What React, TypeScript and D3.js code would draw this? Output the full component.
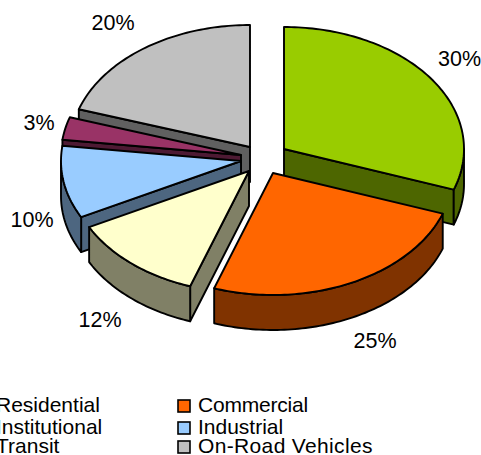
import React from "react";
import * as d3 from "d3";

const categories = ["Residential", "Commercial", "Institutional", "Industrial", "Transit", "On-Road Vehicles"];
const values = [30.4, 24.9, 12.1, 9.6, 3, 20];
const topColors = ["#99CC00", "#FF6600", "#FFFFCC", "#99CCFF", "#993366", "#C0C0C0"];
const sideColors = ["#4D6600", "#803300", "#808066", "#4D6680", "#4D1A33", "#606060"];
const labels = ["30%", "25%", "12%", "10%", "3%", "20%"];

const apexX = [284, 273, 249, 241, 241, 250];
const apexY = [149, 173, 171, 161, 155, 147];
const labelX = [459.5, 375, 100, 32, 39, 113];
const labelY = [66, 348, 327, 227, 130, 29.5];
const paintOrder = [5, 4, 3, 0, 2, 1];
const legendX = [-4, 198];
const legendY = [412, 434, 453];
const swatchX = [-24, 178];
const legendSpacing = [0, -0.2, 0, 0, 0, 0.35];

const RX = 180, RY = 122, DEPTH = 35;
const font = "'Liberation Sans', Arial, sans-serif";

type P = [number, number];
const pie = d3.pie<number>().sort(null).startAngle(0).endAngle(2 * Math.PI);
const arcs = pie(values);
const line = d3.line<P>();

function arcPoints(cx: number, cy: number, a0: number, a1: number, dy = 0): P[] {
  const n = Math.max(2, Math.ceil((a1 - a0) / 0.02));
  const t = d3.scaleLinear().domain([0, n]).range([a0, a1]);
  return d3.range(n + 1).map((i) => [
    cx + RX * Math.sin(t(i)),
    cy - RY * Math.cos(t(i)) + dy,
  ] as P);
}

function Slice({ i }: { i: number }) {
  const { startAngle: a0, endAngle: a1 } = arcs[i];
  const cx = apexX[i], cy = apexY[i];
  const side = sideColors[i];
  const shared = { stroke: "#000", strokeWidth: 1.9, strokeLinejoin: "round" as const };
  const lo = Math.max(a0, Math.PI / 2);
  const hi = Math.min(a1, (3 * Math.PI) / 2);
  const outer = hi > lo ? arcPoints(cx, cy, lo, hi) : [];
  const outerWall = outer.length
    ? [...outer, ...arcPoints(cx, cy, lo, hi, DEPTH).reverse()]
    : null;
  // Radial wall that faces the viewer: end edge on the right half, start edge on the left.
  const wallAngle = a1 <= Math.PI ? a1 : a0;
  const showWall = a0 < Math.PI / 2 || a0 >= Math.PI;
  const e: P = [cx + RX * Math.sin(wallAngle), cy - RY * Math.cos(wallAngle)];
  const wall: P[] = [[cx, cy], e, [e[0], e[1] + DEPTH], [cx, cy + DEPTH]];
  const top: P[] = [[cx, cy], ...arcPoints(cx, cy, a0, a1)];
  return (
    <g>
      {showWall && <path d={line(wall)! + "Z"} fill={side} {...shared} />}
      {outerWall && <path d={line(outerWall)! + "Z"} fill={side} {...shared} />}
      <path d={line(top)! + "Z"} fill={topColors[i]} {...shared} />
    </g>
  );
}

export default function App() {
  return (
    <svg
      width={481}
      height={455}
      viewBox="0 0 481 455"
      style={{ position: "absolute", left: 0, top: 0, background: "#fff" }}
    >
      {paintOrder.map((i) => <Slice key={i} i={i} />)}
      {labels.map((t, i) => (
        <text key={t} x={labelX[i]} y={labelY[i]} textAnchor="middle" fontFamily={font} fontSize={21.5} fill="#000">
          {t}
        </text>
      ))}
      {categories.map((c, i) => {
        const col = i % 2, row = Math.floor(i / 2);
        return (
          <g key={c}>
            <rect x={swatchX[col]} y={legendY[row] - 12} width={12} height={12} fill={topColors[i]} stroke="#000" strokeWidth={1.6} />
            <text x={legendX[col]} y={legendY[row]} fontFamily={font} fontSize={21} letterSpacing={legendSpacing[i]} fill="#000">{c}</text>
          </g>
        );
      })}
    </svg>
  );
}
